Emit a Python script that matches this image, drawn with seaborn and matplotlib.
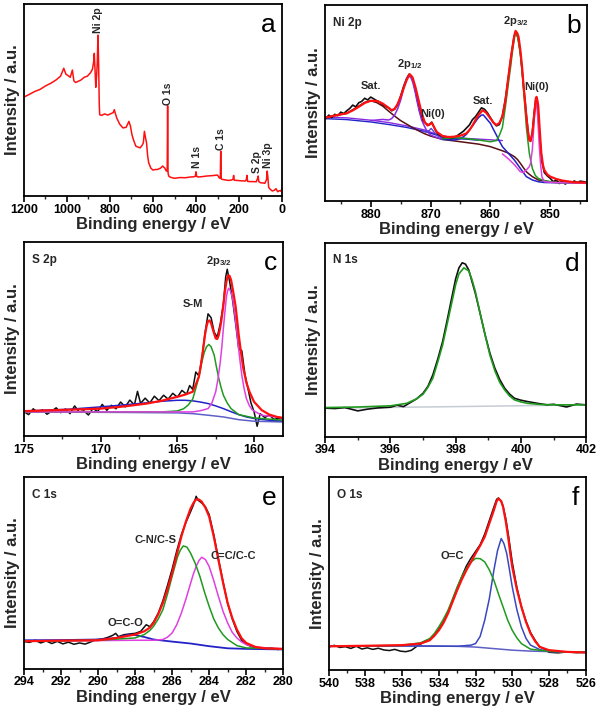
import matplotlib
matplotlib.use("Agg")
import matplotlib.pyplot as plt
import seaborn as sns
from matplotlib.ticker import MultipleLocator

# XPS spectra: (binding energy / eV, intensity / a.u.)

# a: survey
survey = [(1200, 51.6), (1175, 53.0), (1150, 54.5), (1125, 55.6), (1100, 57.4), (1075, 58.8),
          (1050, 60.6), (1030, 62.5), (1015, 66.6), (1005, 63.5), (995, 62.8), (985, 61.9),
          (975, 65.7), (968, 60.0), (960, 59.2), (950, 59.7), (935, 60.5), (920, 61.9),
          (905, 62.5), (890, 64.4), (882, 66.0), (876, 70.0), (873, 74.4), (869, 64.0),
          (866, 56.7), (862, 63.0), (859, 70.0), (856, 83.9), (853, 70.0), (850, 48.0),
          (848, 42.4), (840, 42.0), (825, 42.8), (810, 42.2), (795, 43.0), (785, 43.5),
          (780, 45.0), (775, 43.0), (768, 40.5), (755, 37.5), (740, 35.5), (725, 35.8),
          (712, 38.9), (705, 36.5), (698, 32.0), (690, 29.0), (680, 26.0), (670, 25.5),
          (660, 25.1), (650, 26.5), (645, 27.7), (640, 33.7), (635, 30.5), (630, 27.7),
          (625, 21.0), (620, 17.3), (610, 14.5), (600, 13.5), (590, 13.8), (580, 13.8),
          (565, 14.5), (555, 15.6), (545, 14.5), (538, 13.0), (534, 13.0), (532, 47.1),
          (530, 12.0), (527, 10.4), (520, 9.8), (500, 9.2), (475, 9.6), (450, 9.5),
          (425, 9.9), (410, 10.0), (403, 10.3), (400, 12.6), (397, 10.2), (390, 9.9),
          (370, 10.1), (350, 10.4), (325, 10.6), (300, 10.9), (292, 9.5), (287, 9.2),
          (285, 23.4), (283, 9.0), (280, 8.7), (265, 8.4), (250, 8.1), (235, 8.3),
          (228, 8.7), (225, 10.7), (222, 8.2), (210, 8.1), (190, 7.9), (170, 7.8),
          (166, 8.5), (163, 10.7), (160, 7.6), (150, 7.5), (135, 7.5), (120, 7.4),
          (114, 9.0), (111, 10.4), (108, 7.5), (100, 6.9), (90, 6.8), (80, 6.6),
          (72, 8.5), (69, 13.0), (66, 10.0), (62, 4.5), (55, 3.5), (45, 2.6), (35, 3.0),
          (28, 3.8), (20, 2.2), (12, 2.8), (5, 2.5), (0, 4.0)]
survey_labels = ["Ni 2p", "O 1s", "N 1s", "C 1s", "S 2p", "Ni 3p"]
survey_label_pos = [(856, 85.0), (528, 47.5), (396, 14.8), (284, 24.0), (114, 12.2), (64, 14.4)]

# b: Ni 2p
ni_raw = [(887.5, 42.0), (887, 43.8), (886.5, 42.5), (886, 44.2), (885.5, 43.5), (885, 45.3),
          (884.5, 44.6), (884, 46.0), (883.5, 47.2), (883, 48.9), (882.5, 48.0), (882, 50.1),
          (881.5, 50.8), (881, 52.4), (880.5, 51.5), (880, 53.0), (879.5, 52.1), (879, 51.2),
          (878.5, 50.5), (878, 49.0), (877.5, 48.2), (877, 47.5), (876.5, 46.0), (876, 46.8),
          (875.5, 49.0), (875, 53.5), (874.5, 58.5), (874, 62.5), (873.6, 64.6), (873.2, 63.8),
          (872.8, 60.0), (872.3, 53.0), (871.8, 45.5), (871.3, 41.0), (870.8, 39.5),
          (870.3, 38.8), (869.8, 40.2), (869.4, 37.5), (869, 35.0), (868.5, 33.2), (868, 32.5),
          (867.5, 31.5), (867, 32.8), (866.5, 31.3), (866, 32.6), (865.5, 33.4), (865, 34.5),
          (864.5, 35.6), (864, 37.2), (863.5, 38.8), (863, 41.5), (862.5, 43.0), (862, 45.2),
          (861.5, 47.5), (861, 46.8), (860.5, 45.0), (860, 42.5), (859.5, 40.0), (859, 38.3),
          (858.5, 39.0), (858, 43.5), (857.5, 52.0), (857, 63.0), (856.5, 75.0), (856.1, 83.0),
          (855.8, 86.2), (855.4, 83.5), (855, 75.5), (854.5, 60.0), (854, 44.0), (853.6, 32.0),
          (853.3, 30.5), (853, 35.0), (852.7, 45.0), (852.4, 52.5), (852.1, 47.0),
          (851.8, 34.0), (851.4, 20.0), (851, 14.5), (850.5, 12.8), (850, 11.5), (849.5, 9.8),
          (849, 10.8), (848.5, 8.9), (848, 10.0), (847.5, 8.6), (847, 9.8), (846.5, 9.0),
          (846, 10.2), (845.5, 9.3), (845, 10.1), (844, 9.6)]
ni_fit = [(887.6, 42.5), (886, 43.6), (884, 44.7), (883, 46.2), (882, 48.0), (881, 50.0),
          (880, 51.1), (879, 51.0), (878, 49.7), (877, 47.5), (876.5, 46.3), (876, 47.0),
          (875.5, 49.5), (875, 53.1), (874.5, 57.5), (874, 61.6), (873.5, 64.7), (873, 63.0),
          (872.5, 57.8), (872, 51.4), (871.5, 45.0), (871, 40.4), (870.5, 38.5), (870.2, 38.9),
          (869.8, 39.9), (869.4, 37.6), (869, 35.3), (868, 33.1), (867, 32.6), (866, 32.8),
          (865, 33.3), (864, 34.5), (863.5, 36.2), (863, 38.5), (862.5, 41.3), (862, 43.8),
          (861.3, 46.3), (860.7, 45.0), (860, 42.1), (859.5, 40.0), (859, 38.7), (858.5, 39.8),
          (858, 43.0), (857.5, 51.0), (857, 63.3), (856.6, 72.5), (856.3, 78.6), (856, 84.5),
          (855.8, 86.8), (855.5, 85.5), (855.3, 83.7), (855, 77.0), (854.7, 68.0),
          (854.5, 59.9), (854.2, 50.0), (854, 43.0), (853.7, 35.0), (853.5, 31.0),
          (853.3, 30.5), (853, 34.5), (852.8, 40.0), (852.6, 46.3), (852.4, 52.5),
          (852.3, 53.1), (852.1, 50.5), (852, 48.0), (851.8, 38.0), (851.5, 24.3),
          (851.2, 18.0), (851, 15.8), (850.5, 13.5), (850, 12.4), (849, 11.2), (848, 10.4),
          (846, 9.5), (843.8, 9.3)]
ni_p32 = [(868, 31.8), (866, 32.3), (864, 31.8), (862, 31.1), (860, 30.2), (859, 30.8),
          (858.5, 33.5), (858, 37.5), (857.5, 48.0), (857, 59.9), (856.6, 69.0), (856.3, 76.9),
          (856, 83.0), (855.9, 85.4), (855.6, 85.0), (855.4, 82.9), (855, 75.2), (854.7, 66.0),
          (854.5, 58.2), (854.2, 46.5), (854, 37.9), (853.7, 29.5), (853.5, 24.3), (853, 16.6),
          (852.5, 13.0), (852, 11.5), (851, 10.4), (849, 9.3), (843.8, 9.0)]
ni_metal = [(858, 24.0), (857, 21.5), (856, 18.5), (855, 14.9), (854.5, 14.5), (854, 15.8),
            (853.5, 17.5), (853.3, 19.2), (853, 26.0), (852.85, 33.0), (852.7, 41.3),
            (852.55, 48.0), (852.4, 51.4), (852.25, 49.0), (852.1, 43.0), (851.95, 34.0),
            (851.8, 26.0), (851.6, 18.0), (851.4, 12.4), (851, 9.8), (849, 9.3), (843.8, 9.0)]
ni_sat32 = [(868, 31.4), (866, 31.1), (865, 31.8), (864.5, 32.8), (864, 34.0), (863.5, 36.2),
            (863, 38.3), (862.5, 40.4), (862, 42.5), (861.5, 43.8), (861.2, 43.9),
            (860.8, 42.5), (860.4, 41.0), (860, 39.6), (859.5, 36.5), (859, 33.6),
            (858.5, 30.5), (858, 27.7), (857, 24.3), (856, 20.9), (855, 16.6), (854, 12.4),
            (853, 10.7), (852, 9.8), (851, 9.4), (843.8, 9.0)]
ni_p12 = [(880, 41.0), (878, 41.6), (877, 41.3), (876.5, 42.0), (876, 43.8), (875.5, 47.0),
          (875, 51.4), (874.6, 56.0), (874.3, 59.9), (873.9, 62.8), (873.6, 63.7),
          (873.3, 63.0), (873, 60.8), (872.6, 56.0), (872.3, 51.4), (871.9, 46.0),
          (871.5, 41.3), (871, 38.0), (870.7, 36.2), (870, 33.6), (869, 32.4), (868, 31.4)]
ni_metal12 = [(871.5, 35.5), (870.8, 35.2), (870.3, 35.8), (869.9, 37.0), (869.5, 35.5),
              (869, 33.5), (868, 32.0)]
ni_sat12 = [(887.6, 42.6), (886, 43.5), (884, 44.7), (882, 48.4), (881, 50.3), (880, 51.1),
            (879, 50.2), (878, 48.4), (877, 45.8), (876, 43.3), (875, 41.0), (874, 39.2),
            (873, 37.4), (872, 35.8), (871, 34.3), (870, 33.1), (868, 31.4), (865, 30.2),
            (862, 29.0), (860, 27.7), (858, 25.6), (857, 24.4), (856, 22.6), (855.5, 21.2),
            (855, 19.2), (854.5, 17.0), (854, 14.9), (853.5, 13.6), (853, 12.4), (852, 10.7),
            (850, 9.7), (846, 9.3), (843.8, 9.2)]
ni_bg1 = [(887.6, 42.0), (884, 41.5), (880, 40.3), (877, 39.0), (874, 37.5), (871, 35.5),
          (869, 33.6), (867, 32.0), (864, 31.5), (862, 31.0)]
ni_bg2 = [(887.6, 42.8), (884, 42.4), (880, 41.2), (877, 40.0), (874, 38.3), (871, 36.2),
          (869, 34.0), (867, 32.6), (864, 31.9), (860, 31.2), (858, 30.8)]
ni_labels = ["Sat.", r"2p$_{\mathbf{1/2}}$", "Ni(0)", "Sat.", r"2p$_{\mathbf{3/2}}$", "Ni(0)"]
ni_label_pos = [(880, 56.0), (873.5, 66.5), (869.6, 42.0), (861.3, 48.5), (855.8, 88.5), (852.3, 55.5)]

# c: S 2p
s_raw = [(175.0, 12.5), (174.7, 11.0), (174.4, 14.0), (174.1, 12.2), (173.8, 13.5), (173.5, 11.2),
         (173.2, 12.8), (172.9, 14.5), (172.6, 12.0), (172.3, 13.9), (172.0, 11.5), (171.7, 15.5),
         (171.4, 12.3), (171.1, 13.0), (170.8, 10.8), (170.5, 14.2), (170.2, 12.5), (169.9, 16.3),
         (169.6, 13.2), (169.3, 15.8), (169.0, 14.0), (168.7, 17.5), (168.4, 15.0), (168.1, 18.5),
         (167.8, 16.0), (167.6, 23.0), (167.4, 16.8), (167.1, 19.5), (166.8, 17.0), (166.5, 20.5),
         (166.2, 18.2), (165.9, 21.0), (165.6, 19.0), (165.3, 22.0), (165.0, 20.0), (164.7, 23.5),
         (164.4, 21.5), (164.2, 26.0), (164.0, 24.0), (163.8, 33.0), (163.6, 31.0), (163.4, 40.0),
         (163.2, 53.0), (163.0, 63.0), (162.8, 61.0), (162.6, 53.5), (162.4, 51.0), (162.2, 58.0),
         (162.0, 68.0), (161.85, 82.0), (161.75, 86.0), (161.6, 80.0), (161.4, 70.0),
         (161.2, 58.0), (161.0, 45.0), (160.8, 44.0), (160.6, 32.0), (160.4, 24.5),
         (160.2, 17.0), (160.0, 12.5), (159.8, 5.0), (159.6, 11.5), (159.3, 9.5), (159.0, 10.8),
         (158.7, 8.5), (158.4, 9.2), (158.1, 8.8)]
s_fit = [(175, 12.8), (173, 13.3), (171, 13.8), (170, 14.1), (168.5, 15.2), (167, 16.7),
         (166, 18.2), (165, 20.2), (164.5, 21.3), (164, 22.8), (163.8, 26.5), (163.6, 30.5),
         (163.5, 34.8), (163.35, 43.0), (163.2, 52.1), (163.1, 56.5), (163, 59.3), (162.9, 59.6),
         (162.8, 58.1), (162.65, 54.0), (162.5, 50.3), (162.4, 50.0), (162.3, 52.1),
         (162.15, 58.5), (162, 67.6), (161.9, 74.5), (161.8, 79.7), (161.7, 82.8),
         (161.6, 82.6), (161.5, 80.5), (161.35, 74.0), (161.2, 66.7), (161.1, 59.5),
         (161, 52.1), (160.85, 43.0), (160.7, 34.8), (160.5, 27.5), (160.3, 22.8), (160, 17.6),
         (159.5, 13.3), (159, 11.0), (158.5, 9.8), (158.1, 9.3)]
s_sm = [(175, 12.4), (170, 12.4), (166, 12.4), (165, 12.9), (164.6, 14.0), (164.3, 15.9),
        (164, 19.0), (163.8, 24.5), (163.6, 30.5), (163.4, 38.3), (163.25, 43.0), (163.1, 46.0),
        (162.95, 47.2), (162.8, 46.0), (162.6, 41.7), (162.45, 35.5), (162.3, 29.7),
        (162.15, 25.0), (162, 21.0), (161.75, 17.0), (161.5, 14.1), (161, 11.0), (160, 9.3),
        (158.1, 8.1)]
s_p32 = [(175, 12.4), (166, 12.4), (164, 12.4), (163.5, 13.0), (163, 14.1), (162.75, 17.0),
         (162.5, 22.8), (162.35, 29.5), (162.2, 38.3), (162.1, 46.0), (162, 55.5), (161.9, 64.0),
         (161.8, 71.9), (161.72, 75.0), (161.65, 76.2), (161.55, 75.0), (161.4, 71.0),
         (161.25, 62.5), (161.1, 52.1), (160.95, 41.0), (160.8, 31.4), (160.65, 24.5),
         (160.5, 19.3), (160.3, 15.5), (160.1, 13.3), (159.5, 10.7), (158.1, 9.3)]
s_broad = [(175, 12.8), (172, 13.8), (170, 15.0), (168.5, 16.0), (167, 17.1), (166, 17.9),
           (165, 18.4), (164.5, 18.4), (164, 18.1), (163.5, 17.5), (163, 16.7), (162.5, 15.5),
           (162, 14.1), (161.5, 12.5), (161, 11.0), (160.5, 9.8), (160, 9.0), (159, 8.1),
           (158.1, 7.8)]
s_bg = [(175, 12.4), (168, 12.1), (165, 11.9), (164, 11.5), (163, 10.7), (162, 9.8), (161, 8.4),
        (160, 7.6), (158.1, 7.2)]
s_labels = ["S-M", r"2p$_{\mathbf{3/2}}$"]
s_label_pos = [(164.0, 65.5), (162.3, 86.5)]

# d: N 1s
n_raw = [(394, 14.7), (394.3, 14.5), (394.6, 15.0), (395, 13.3), (395.3, 14.2), (395.6, 14.8),
         (396, 15.2), (396.2, 16.2), (396.4, 15.5), (396.6, 17.5), (396.8, 19.5), (397, 22.4),
         (397.15, 26.0), (397.3, 31.9), (397.45, 40.0), (397.6, 49.1), (397.75, 61.0),
         (397.9, 73.3), (398, 81.5), (398.1, 87.1), (398.2, 89.7), (398.3, 89.0), (398.4, 86.0),
         (398.5, 80.0), (398.6, 74.1), (398.75, 63.5), (398.9, 52.6), (399.05, 43.0),
         (399.2, 35.3), (399.35, 29.5), (399.5, 25.0), (399.65, 22.0), (399.8, 19.8),
         (400, 18.8), (400.2, 18.1), (400.5, 17.2), (400.8, 16.4), (401, 16.7), (401.2, 16.0),
         (401.4, 15.3), (401.7, 16.8), (402, 16.4)]
n_fit = [(394, 15.0), (395, 15.3), (396, 15.9), (396.5, 17.2), (396.8, 19.5), (397, 21.9),
         (397.15, 25.5), (397.3, 30.2), (397.45, 38.5), (397.6, 47.4), (397.75, 59.0),
         (397.9, 70.7), (398, 78.5), (398.1, 84.0), (398.25, 87.1), (398.4, 85.5), (398.5, 81.0),
         (398.6, 75.0), (398.75, 63.5), (398.9, 52.6), (399.05, 42.0), (399.2, 34.0),
         (399.35, 28.0), (399.5, 24.1), (399.65, 21.0), (399.8, 19.0), (400, 17.9),
         (400.2, 17.2), (400.6, 16.6), (401, 16.4), (402, 16.4)]
n_bg = [(394, 14.7), (398, 15.5), (402, 16.4)]

# e: C 1s
c_raw = [(294, 14.2), (293.7, 13.8), (293.4, 14.9), (293.1, 13.5), (292.8, 14.5), (292.5, 13.2),
         (292.2, 14.3), (291.9, 13.0), (291.6, 13.9), (291.3, 12.8), (291, 13.5), (290.7, 12.9),
         (290.4, 14.0), (290.1, 15.2), (289.8, 15.5), (289.5, 16.3), (289.2, 17.5),
         (289.05, 18.5), (288.9, 16.8), (288.6, 17.8), (288.3, 18.2), (288, 18.5), (287.7, 19.5),
         (287.4, 23.0), (287.2, 22.0), (287, 24.5), (286.75, 29.0), (286.5, 35.5),
         (286.25, 43.5), (286, 52.0), (285.75, 61.5), (285.5, 70.0), (285.25, 76.5), (285, 82.0),
         (284.85, 85.5), (284.7, 90.0), (284.6, 88.0), (284.4, 86.5), (284.2, 84.5), (284, 80.5),
         (283.75, 70.0), (283.5, 57.5), (283.25, 45.5), (283, 34.0), (282.75, 26.0),
         (282.5, 19.5), (282.25, 15.0), (282, 12.8), (281.7, 11.5), (281.4, 10.8), (281, 10.2),
         (280.7, 10.9), (280.3, 10.1), (280, 10.5)]
c_fit = [(294, 14.4), (292, 14.7), (290, 14.9), (289, 16.1), (288.5, 17.0), (288, 17.9),
         (287.5, 19.6), (287.2, 21.5), (287, 23.9), (286.75, 28.5), (286.5, 34.3),
         (286.25, 41.5), (286, 49.9), (285.75, 59.5), (285.5, 69.0), (285.25, 77.0), (285, 83.7),
         (284.85, 86.5), (284.7, 88.4), (284.55, 88.3), (284.4, 87.2), (284.2, 84.0),
         (284, 79.4), (283.75, 69.0), (283.5, 56.8), (283.25, 45.0), (283, 34.3),
         (282.75, 26.5), (282.5, 20.5), (282.25, 16.0), (282, 13.5), (281.5, 11.4),
         (281, 10.7), (280, 10.4)]
c_cn = [(294, 14.4), (290, 14.9), (289, 15.5), (288, 16.1), (287.5, 17.9), (287.2, 20.0),
        (287, 22.2), (286.75, 26.0), (286.5, 30.8), (286.25, 39.0), (286, 48.2), (285.85, 53.5),
        (285.7, 58.6), (285.55, 62.0), (285.4, 64.1), (285.2, 63.5), (285, 60.3),
        (284.75, 55.0), (284.5, 48.2), (284.25, 40.0), (284, 32.6), (283.75, 26.0),
        (283.5, 21.3), (283.25, 17.8), (283, 15.3), (282.5, 12.1), (282, 10.9), (280, 10.4)]
c_cc = [(294, 14.4), (288, 14.9), (287, 14.9), (286.5, 15.3), (286.25, 16.5), (286, 18.7),
        (285.75, 23.0), (285.5, 29.1), (285.25, 36.5), (285, 44.7), (284.85, 49.5),
        (284.7, 53.4), (284.55, 56.5), (284.4, 58.2), (284.2, 57.0), (284, 53.4),
        (283.75, 46.0), (283.5, 37.8), (283.25, 30.0), (283, 23.9), (282.75, 19.0),
        (282.5, 16.1), (282.25, 14.0), (282, 12.7), (281.5, 11.3), (280, 10.4)]
c_oco = [(294, 14.9), (292, 15.0), (290, 15.3), (289, 16.1), (288.6, 17.2), (288.3, 17.9),
         (288, 17.6), (287.5, 16.6), (287, 15.3), (286, 14.2), (285, 13.2), (284, 11.8),
         (283, 10.7), (282, 10.4), (280, 10.1)]
c_labels = ["C-N/C-S", "C=C/C-C", "O=C-O"]
c_label_pos = [(286.9, 64.5), (282.7, 56.5), (288.5, 21.5)]

# f: O 1s
o_raw = [(540, 12.0), (539.7, 12.9), (539.4, 11.8), (539.1, 12.2), (538.8, 11.3), (538.5, 12.4),
         (538.2, 11.0), (537.9, 11.6), (537.6, 10.8), (537.3, 11.4), (537, 10.5), (536.7, 10.2),
         (536.4, 10.8), (536.1, 9.9), (535.8, 9.6), (535.5, 10.3), (535.2, 12.4), (535, 13.5),
         (534.75, 15.0), (534.5, 16.0), (534.25, 18.2), (534, 21.3), (533.75, 25.0),
         (533.5, 30.2), (533.25, 36.5), (533, 42.5), (532.75, 48.5), (532.5, 54.0),
         (532.25, 58.0), (532, 61.5), (531.75, 65.0), (531.5, 70.5), (531.25, 77.5), (531, 84.5),
         (530.85, 88.5), (530.75, 89.2), (530.6, 87.5), (530.5, 85.0), (530.35, 78.5),
         (530.2, 69.5), (530, 56.0), (529.75, 43.0), (529.5, 33.0), (529.25, 25.5), (529, 19.5),
         (528.75, 15.5), (528.5, 12.0), (528.3, 11.2), (528, 9.3), (527.5, 9.0), (527, 9.5),
         (526.5, 9.1), (526, 9.4)]
o_fit = [(540, 12.4), (537, 12.8), (536, 13.0), (535, 13.8), (534.5, 15.5), (534.25, 17.8),
         (534, 20.7), (533.75, 24.5), (533.5, 29.4), (533.25, 35.5), (533, 41.5), (532.75, 47.0),
         (532.5, 51.8), (532.25, 56.0), (532, 60.4), (531.75, 64.5), (531.5, 69.1),
         (531.25, 76.0), (531, 82.9), (530.85, 87.5), (530.75, 88.9), (530.6, 87.5),
         (530.5, 84.6), (530.35, 77.0), (530.2, 67.4), (530.1, 60.0), (530, 53.5),
         (529.75, 42.0), (529.5, 32.8), (529.25, 25.0), (529, 19.0), (528.75, 15.0),
         (528.5, 12.1), (528, 10.4), (527, 9.5), (526, 9.2)]
o_oc = [(540, 12.4), (536, 12.9), (535, 14.2), (534.5, 16.4), (534.25, 19.0), (534, 22.5),
        (533.75, 26.5), (533.5, 31.1), (533.25, 37.0), (533, 43.2), (532.75, 48.5),
        (532.5, 52.7), (532.25, 56.0), (532, 57.9), (531.75, 57.8), (531.5, 56.1),
        (531.25, 52.0), (531, 46.6), (530.75, 39.5), (530.5, 32.8), (530.25, 26.0), (530, 20.7),
        (529.75, 16.8), (529.5, 13.8), (529, 10.9), (528, 9.8), (526, 9.2)]
o_lat = [(540, 12.4), (536, 12.6), (533, 12.4), (532.25, 13.0), (532, 13.8), (531.75, 17.5),
         (531.5, 25.9), (531.25, 37.0), (531, 51.8), (530.8, 62.0), (530.6, 68.2),
         (530.45, 65.5), (530.3, 60.4), (530.15, 52.0), (530, 43.2), (529.75, 31.5),
         (529.5, 22.5), (529.25, 16.5), (529, 13.0), (528.5, 10.7), (528, 9.8), (526, 9.2)]
o_bg = [(540, 12.4), (535, 12.6), (533, 12.4), (532, 12.0), (531, 11.2), (530, 10.4),
        (529, 9.9), (526, 9.2)]
o_labels = ["O=C"]
o_label_pos = [(533.3, 56.5)]

RED = "#ff1010"
BLACK = "#101010"
GREEN = "#1f9a1f"
MAGENTA = "#e040e0"
BLUE = "#2222c8"
PURPLE = "#8a2be2"
BROWN = "#5a0f14"
SLATE = "#5f5fc8"

sns.set_theme(style="ticks")
plt.rcParams["font.family"] = ["Liberation Sans", "DejaVu Sans"]
plt.rcParams.update({
    "font.weight": "bold",
    "axes.labelweight": "bold",
    "mathtext.fontset": "custom",
    "mathtext.rm": "Liberation Sans:bold",
    "mathtext.bf": "Liberation Sans:bold",
    "mathtext.it": "Liberation Sans:bold",
    "axes.edgecolor": "black",
    "axes.linewidth": 1.3,
})


def trace(ax, pts, color, lw=1.1):
    be, inten = zip(*pts)
    sns.lineplot(x=list(be), y=list(inten), color=color, linewidth=lw, ax=ax,
                 estimator=None, sort=False)


def style(ax, xlim, major, minor, letter, tag=None):
    ax.set_xlim(*xlim)
    ax.set_ylim(0, 100)
    ax.set_yticks([])
    ax.xaxis.set_major_locator(MultipleLocator(major))
    ax.xaxis.set_minor_locator(MultipleLocator(minor))
    ax.tick_params(axis="x", which="major", direction="out", length=4, width=1.2,
                   labelsize=9, pad=1.5, colors="black")
    ax.tick_params(axis="x", which="minor", direction="out", length=2.5, width=1.0)
    for lbl in ax.get_xticklabels():
        lbl.set_fontweight("bold")
    ax.set_xlabel("Binding energy / eV", fontsize=12, fontweight="bold", labelpad=1)
    ax.set_ylabel("Intensity / a.u.", fontsize=12, fontweight="bold", labelpad=3)
    ax.text(0.975, 0.855, letter, transform=ax.transAxes, ha="right", va="baseline",
            fontsize=19, fontweight="normal", color="black")
    if tag:
        ax.text(0.03, 0.94, tag, transform=ax.transAxes, ha="left", va="top",
                fontsize=8.5, fontweight="bold")


def peak_labels(ax, labels, pos, rotation=0, size=8):
    for lbl, (x, y) in zip(labels, pos):
        ax.text(x, y, lbl, ha="center", va="bottom", fontsize=size, fontweight="bold",
                rotation=rotation)


fig = plt.figure(figsize=(6, 7.1), dpi=100)
ax_a = fig.add_axes([0.040, 0.724, 0.430, 0.270])
ax_b = fig.add_axes([0.542, 0.717, 0.437, 0.276])
ax_c = fig.add_axes([0.040, 0.386, 0.432, 0.273])
ax_d = fig.add_axes([0.542, 0.385, 0.435, 0.273])
ax_e = fig.add_axes([0.040, 0.058, 0.432, 0.270])
ax_f = fig.add_axes([0.548, 0.056, 0.428, 0.272])

# a
trace(ax_a, survey, RED, 1.1)
style(ax_a, (1200, 0), 200, 100, "a")
peak_labels(ax_a, survey_labels, survey_label_pos, rotation=90, size=7.5)

# b
trace(ax_b, ni_bg2, PURPLE, 1.0)
trace(ax_b, ni_bg1, BLUE, 1.0)
trace(ax_b, ni_raw, BLACK, 1.2)
trace(ax_b, ni_sat12, BROWN, 1.1)
trace(ax_b, ni_p12, PURPLE, 1.1)
trace(ax_b, ni_metal12, "#5a3fd8", 1.0)
trace(ax_b, ni_sat32, BLUE, 1.1)
trace(ax_b, ni_p32, GREEN, 1.1)
trace(ax_b, ni_metal, MAGENTA, 1.1)
trace(ax_b, ni_fit, RED, 1.6)
style(ax_b, (887.6, 843.8), 10, 5, "b", "Ni 2p")
peak_labels(ax_b, ni_labels, ni_label_pos)

# c
trace(ax_c, s_raw, BLACK, 1.1)
trace(ax_c, s_bg, SLATE, 1.1)
trace(ax_c, s_broad, BLUE, 1.1)
trace(ax_c, s_sm, GREEN, 1.1)
trace(ax_c, s_p32, MAGENTA, 1.1)
trace(ax_c, s_fit, RED, 1.6)
style(ax_c, (175, 158.1), 5, 2.5, "c", "S 2p")
peak_labels(ax_c, s_labels, s_label_pos)

# d
trace(ax_d, n_bg, "#c5ccd6", 1.1)
trace(ax_d, n_raw, BLACK, 1.2)
trace(ax_d, n_fit, GREEN, 1.2)
style(ax_d, (394, 402), 2, 1, "d", "N 1s")

# e
trace(ax_e, c_raw, BLACK, 1.1)
trace(ax_e, c_oco, BLUE, 1.3)
trace(ax_e, c_cc, MAGENTA, 1.1)
trace(ax_e, c_cn, GREEN, 1.1)
trace(ax_e, c_fit, RED, 1.6)
style(ax_e, (294, 280), 2, 1, "e", "C 1s")
peak_labels(ax_e, c_labels, c_label_pos)

# f
trace(ax_f, o_raw, BLACK, 1.1)
trace(ax_f, o_bg, SLATE, 1.1)
trace(ax_f, o_lat, "#3a48c0", 1.1)
trace(ax_f, o_oc, GREEN, 1.1)
trace(ax_f, o_fit, RED, 1.6)
style(ax_f, (540, 526), 2, 1, "f", "O 1s")
peak_labels(ax_f, o_labels, o_label_pos)

fig.savefig("out.png", dpi=100)
